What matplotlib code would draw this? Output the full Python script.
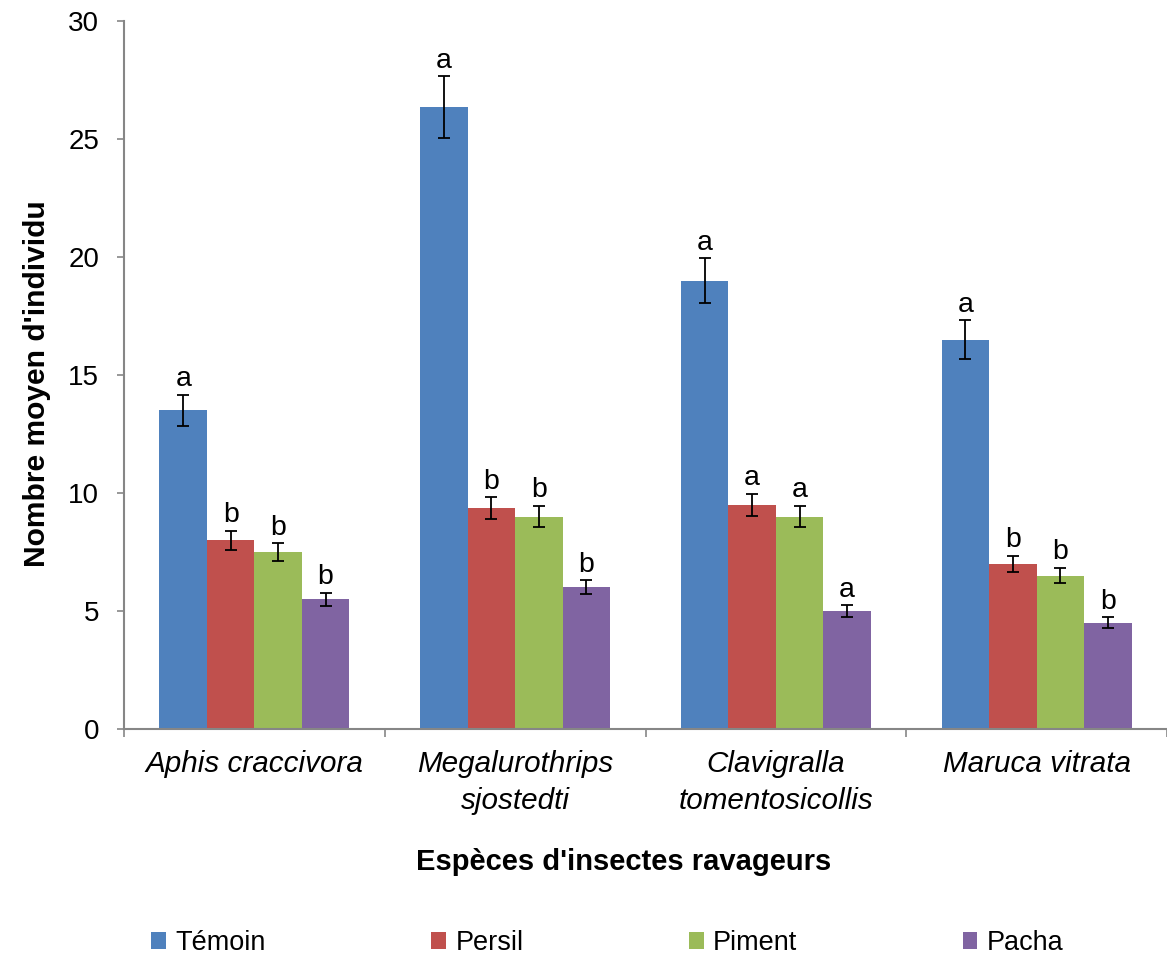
import matplotlib
matplotlib.use("Agg")
import matplotlib.pyplot as plt
import numpy as np

plt.rcParams['font.family'] = ['Liberation Sans', 'DejaVu Sans']

categories = ["Aphis craccivora", "Megalurothrips\nsjostedti", "Clavigralla\ntomentosicollis", "Maruca vitrata"]
series = ["Témoin", "Persil", "Piment", "Pacha"]
temoin = [13.5, 26.35, 19.0, 16.5]
persil = [8.0, 9.35, 9.5, 7.0]
piment = [7.5, 9.0, 9.0, 6.5]
pacha = [5.5, 6.0, 5.0, 4.5]
err_temoin = [0.67, 1.30, 0.95, 0.83]
err_persil = [0.40, 0.47, 0.47, 0.35]
err_piment = [0.38, 0.46, 0.46, 0.33]
err_pacha = [0.28, 0.30, 0.25, 0.24]
letters_temoin = ["a", "a", "a", "a"]
letters_persil = ["b", "b", "a", "b"]
letters_piment = ["b", "b", "a", "b"]
letters_pacha = ["b", "b", "a", "b"]
yticks = [0, 5, 10, 15, 20, 25, 30]

colors = ["#4F81BD", "#C0504D", "#9BBB59", "#8064A2"]
values = [temoin, persil, piment, pacha]
errors = [err_temoin, err_persil, err_piment, err_pacha]
letters = [letters_temoin, letters_persil, letters_piment, letters_pacha]

W, H = 1167, 959
fig = plt.figure(figsize=(W / 100, H / 100), dpi=100)
ax = fig.add_axes([124 / W, 1 - 729 / H, (1167 - 124) / W, (729 - 21) / H])

x = np.arange(len(categories))
bw = 0.182
gray = "#868686"
fs = 20
for i, (name, vals, errs, labs, c) in enumerate(zip(series, values, errors, letters, colors)):
    pos = x + (i - 1.5) * bw
    ax.bar(pos, vals, width=bw, color=c, label=name, edgecolor='none')
    ax.errorbar(pos, vals, yerr=errs, fmt='none', ecolor='black',
                elinewidth=1.3, capsize=4.5, capthick=1.3)
    for px, v, e, l in zip(pos, vals, errs, labs):
        ax.annotate(l, (px, v + e), xytext=(0, 6), textcoords='offset points',
                    ha='center', va='baseline', fontsize=20.5)

ax.set_xlim(-0.5, len(categories) - 0.5)
ax.set_ylim(0, 30)
ax.set_yticks(yticks)
ax.set_yticklabels([str(t) for t in yticks], fontsize=fs)
ax.set_xticks(x)
ax.set_xticklabels(categories, fontsize=21.3, style='italic', linespacing=1.4)
ax.set_xticks(np.arange(len(categories) + 1) - 0.5, minor=True)
ax.tick_params(axis='x', which='major', length=0, pad=15)
ax.tick_params(axis='x', which='minor', length=6, width=1.2, color=gray)
ax.tick_params(axis='y', which='major', length=5, width=1.2, color=gray, pad=13)

for s in ['top', 'right']:
    ax.spines[s].set_visible(False)
for s in ['left', 'bottom']:
    ax.spines[s].set_color(gray)
    ax.spines[s].set_linewidth(1.5)

ax.set_ylabel("Nombre moyen d'individu", fontsize=21.6, fontweight='bold')
ax.yaxis.label.set_va('center')
ax.yaxis.set_label_coords((37.5 - 124) / (1167 - 124), (729 - 383.5) / 708)
ax.set_xlabel("Espèces d'insectes ravageurs", fontsize=21, fontweight='bold')
ax.xaxis.label.set_va('center')
ax.xaxis.set_label_coords((624 - 124) / (1167 - 124), (729 - 862) / 708)

fig.legend(loc='center left', bbox_to_anchor=(151 / W, 1 - 943 / H), ncol=4,
           frameon=False, fontsize=19.5, handlelength=0.55, handleheight=0.55,
           handletextpad=0.35, columnspacing=6.1, borderpad=0, borderaxespad=0)

fig.savefig("out.png", dpi=100)
